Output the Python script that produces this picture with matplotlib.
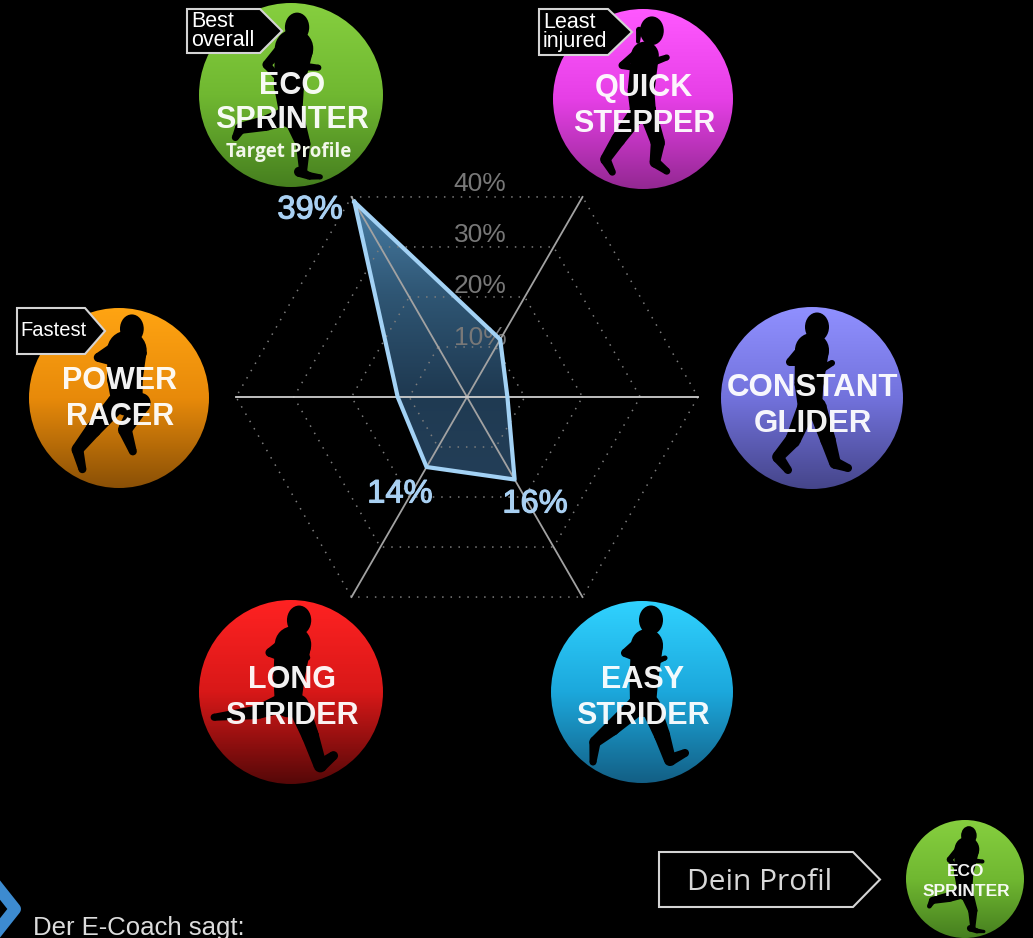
import numpy as np
import matplotlib
matplotlib.use("Agg")
import matplotlib.pyplot as plt
import matplotlib.patheffects as pe
from matplotlib.colors import LinearSegmentedColormap
from matplotlib.patches import Circle, Ellipse, Polygon

# === Datos ===
perfiles = ["ECO\nSPRINTER", "QUICK\nSTEPPER", "CONSTANT\nGLIDER", "EASY\nSTRIDER", "LONG\nSTRIDER", "POWER\nRACER"]
valores = [39, 11.5, 7, 16.5, 14, 12]
anillos = [10, 20, 30, 40]
etiquetas_anillos = ["10%", "20%", "30%", "40%"]
etiquetas_valores = ["39%", "14%", "16%"]

W, H = 1033, 938
CX, CY, R40 = 467, 397, 231

fig = plt.figure(figsize=(W / 100, H / 100), dpi=100, facecolor="black")
ax = fig.add_axes([0, 0, 1, 1])
ax.set_xlim(0, W)
ax.set_ylim(H, 0)
ax.axis("off")


def px(p):
    # tamano en pixeles a puntos
    return p * 0.72


# === Siluetas: cabeza y (puntos relativos al centro, grosor inicial, grosor final) ===
RUNNERS = {
    "eco": ((6, -67), [
        ([(3, -46), (-2, -10), (0, 22)], 38, 22),
        ([(-8, -48), (-24, -30), (-12, -16)], 11, 6),
        ([(10, -42), (15, -28), (27, -27)], 9, 6),
        ([(-2, 20), (-25, 28), (-50, 33), (-55, 42)], 19, 7),
        ([(2, 20), (12, 48), (12, 75)], 21, 8),
        ([(8, 76), (18, 80), (29, 81)], 10, 5)]),
    "quick": ((9, -69), [
        ([(2, -44), (-2, -8), (0, 12)], 28, 26),
        ([(-3, -49), (-21, -34), (-6, -31)], 9, 6),
        ([(7, -36), (24, -42)], 8, 6),
        ([(-3, 11), (-25, 41), (-38, 61), (-31, 74)], 18, 7),
        ([(4, 11), (15, 44), (12, 64), (24, 73)], 18, 7),
        ([(-4, -70), (-5, -58)], 6, 4)]),
    "constant": ((5, -71), [
        ([(0, -48), (-3, -15), (-2, 10)], 34, 24),
        ([(-5, -55), (-22, -36), (-5, -35)], 10, 6),
        ([(5, -41), (11, -30), (20, -35)], 9, 6),
        ([(-5, 9), (-19, 42), (-34, 59), (-24, 72)], 19, 8),
        ([(5, 9), (16, 42), (23, 65), (36, 70)], 19, 8)]),
    "easy": ((9, -72), [
        ([(5, -47), (2, -15), (1, 12)], 32, 26),
        ([(1, -54), (-17, -39), (-2, -32)], 10, 6),
        ([(10, -40), (13, -30), (23, -34)], 8, 5),
        ([(-4, 13), (-30, 36), (-47, 50), (-49, 70)], 20, 7),
        ([(8, 13), (20, 43), (28, 68), (43, 61)], 20, 8)]),
    "long": ((8, -71), [
        ([(2, -47), (-2, -15), (-3, 12)], 36, 26),
        ([(1, -55), (-21, -39), (-6, -32)], 11, 6),
        ([(11, -40), (16, -34)], 9, 6),
        ([(-6, 10), (-33, 20), (-76, 25)], 20, 7),
        ([(7, 13), (19, 43), (29, 73), (42, 63)], 21, 9)]),
    "power": ((13, -70), [
        ([(8, -48), (6, -20), (8, 2)], 40, 32),
        ([(1, -55), (-21, -41), (-6, -36)], 11, 7),
        ([(19, -55), (24, -45)], 10, 8),
        ([(-2, 5), (-26, 32), (-42, 52), (-37, 72)], 20, 8),
        ([(22, 5), (6, 32), (14, 54)], 20, 8)]),
}


def trazo(x, y, esc, pts, w0, w1):
    # miembro que adelgaza de w0 a w1
    n = len(pts)
    anchos = np.linspace(w0, w1, n) * esc
    xy = [(x + p[0] * esc, y + p[1] * esc) for p in pts]
    for i in range(n):
        ax.add_patch(Circle(xy[i], anchos[i] / 2, color="black", lw=0, zorder=3))
    for i in range(n - 1):
        (x0, y0), (x1, y1) = xy[i], xy[i + 1]
        largo = np.hypot(x1 - x0, y1 - y0)
        nx, ny = -(y1 - y0) / largo, (x1 - x0) / largo
        a0, a1 = anchos[i] / 2, anchos[i + 1] / 2
        ax.add_patch(Polygon([(x0 + nx * a0, y0 + ny * a0), (x1 + nx * a1, y1 + ny * a1),
                              (x1 - nx * a1, y1 - ny * a1), (x0 - nx * a0, y0 - ny * a0)],
                             closed=True, color="black", lw=0, zorder=3))


def dibujar_perfil(x, y, r, colores, runner, texto, size, ty):
    cmap = LinearSegmentedColormap.from_list("g", colores)
    grad = np.linspace(0, 1, 256).reshape(-1, 1)
    im = ax.imshow(grad, cmap=cmap, extent=(x - r, x + r, y + r, y - r), aspect="auto", zorder=2, interpolation="bilinear")
    im.set_clip_path(Circle((x, y), r, transform=ax.transData))

    esc = r / 91
    head, miembros = RUNNERS[runner]
    ax.add_patch(Ellipse((x + head[0] * esc, y + head[1] * esc), 24 * esc, 29 * esc, color="black", lw=0, zorder=3))
    for pts, w0, w1 in miembros:
        trazo(x, y, esc, pts, w0, w1)

    for linea, yt in zip(texto.split("\n"), ty):
        ax.text(x + 1, yt, linea, color="white", fontsize=size, fontweight="bold",
                family="Liberation Sans", ha="center", va="center", zorder=4, alpha=0.95)


dibujar_perfil(291, 95, 92, ["#86cf3f", "#70b831", "#467f1f"], "eco", perfiles[0], 22, (86, 120))
dibujar_perfil(643, 99, 90, ["#ff58ff", "#e63fe6", "#932892"], "quick", perfiles[1], 22, (88, 124))
dibujar_perfil(812, 398, 91, ["#9090ff", "#7272dc", "#45458a"], "constant", perfiles[2], 22.5, (388, 424))
dibujar_perfil(642, 692, 91, ["#30d2ff", "#1ca8dc", "#135f85"], "easy", perfiles[3], 22, (680, 716))
dibujar_perfil(291, 692, 92, ["#ff2222", "#d81818", "#550808"], "long", perfiles[4], 22, (680, 716))
dibujar_perfil(119, 398, 90, ["#ffa412", "#e88a0a", "#8a5006"], "power", perfiles[5], 22, (381, 417))
dibujar_perfil(965, 879, 59, ["#86cf3f", "#70b831", "#467f1f"], "eco", perfiles[0], 12.5, (871, 892))

ax.text(289, 152, "Target Profile", color="#f2f7ea", fontsize=13.5, fontweight="bold", family="Open Sans",
        ha="center", va="center", zorder=4)


# === Etiquetas con flecha ===
def etiqueta(x0, y0, x1, xtip, y1, texto, tx, size, family="Liberation Sans", color="white", ls=0.88, dy=0):
    ym = (y0 + y1) / 2
    ax.add_patch(Polygon([(x0, y0), (x1, y0), (xtip, ym), (x1, y1), (x0, y1)], closed=True,
                         facecolor="black", edgecolor="#d4d4d4", lw=1.5, zorder=5))
    ax.text(tx, ym + dy, texto, color=color, fontsize=size, family=family, ha="left", va="center",
            linespacing=ls, zorder=6)


etiqueta(187, 9, 260, 282, 53, "Best\noverall", 191, 15.5)
etiqueta(539, 9, 608, 632, 55, "Least\ninjured", 543, 15.5)
etiqueta(17, 308, 85, 105, 354, "Fastest", 20, 14.5)
etiqueta(659, 852, 853, 880, 907, "Dein Profil", 687, 21.5, family="Open Sans", color="#d8d8d8", dy=3)

# === Radar ===
theta = np.radians(np.arange(6) * 60)
theta_c = np.append(theta, theta[0])
valores_c = valores + valores[:1]

rmax = 50
rad_px = R40 * rmax / 40
pax = fig.add_axes([(CX - rad_px) / W, (H - CY - rad_px) / H, 2 * rad_px / W, 2 * rad_px / H],
                   projection="polar", zorder=2)
pax.set_theta_offset(np.radians(120))
pax.set_theta_direction(-1)
pax.set_rlim(0, rmax)
pax.axis("off")
pax.patch.set_alpha(0)

for a in anillos:
    pax.plot(theta_c, [a] * 7, color="#7c7c7c", lw=1.1, linestyle=(0, (1, 4.5)))
for i in range(3):
    # el eje horizontal se ve mas claro
    col = "#cfcfcf" if i == 2 else "#a2a2a2"
    pax.plot([theta[i], theta[i + 3]], [40, 40], color=col, lw=1.3, zorder=3)

contorno = pax.fill(theta_c, valores_c, facecolor="none", edgecolor="none")[0]
fondo = LinearSegmentedColormap.from_list("f", ["#4a80a8", "#2f5674", "#1f3a52", "#243f58"])
im = ax.imshow(np.linspace(0, 1, 256).reshape(-1, 1), cmap=fondo, extent=(340, 530, 490, 195), aspect="auto",
               zorder=1, interpolation="bilinear")
im.set_clip_path(contorno)
pax.plot(theta_c, valores_c, color="#a3d2f5", lw=3, zorder=4, solid_joinstyle="round")

for v, lab, dy in zip(anillos, etiquetas_anillos, [-9, -11, -12, -13]):
    ax.text(480, CY - R40 * v / 40 * np.sin(np.radians(60)) + dy, lab, color="#787878", fontsize=19,
            family="Liberation Sans", ha="center", va="center", zorder=1.5)

pos_labels = [(310, 210), (400, 494), (535, 504)]
for (x, y), lab in zip(pos_labels, etiquetas_valores):
    pax.text(x, y, lab, transform=ax.transData, color="#a9d0f2", fontsize=23.5, family="Liberation Sans",
             ha="center", va="center", zorder=6, clip_on=False,
             path_effects=[pe.withStroke(linewidth=0.8, foreground="#a9d0f2")])

# === Pie ===
ax.plot([-8, 15, -8], [880, 909, 938], color="#3d8bd0", lw=px(12), solid_joinstyle="round", zorder=3)
ax.text(33, 928, "Der E-Coach sagt:", color="#dcdcdc", fontsize=18.5, family="Liberation Sans", ha="left", va="center", zorder=3)

fig.savefig("out.png", dpi=100, facecolor="black")
plt.close(fig)
